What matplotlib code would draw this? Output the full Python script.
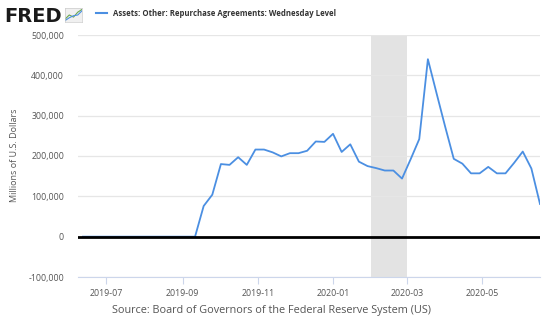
import numpy as np
import pandas as pd
import matplotlib
matplotlib.use("Agg")
import matplotlib.pyplot as plt
import matplotlib.dates as mdates
from matplotlib.lines import Line2D
from matplotlib.ticker import FuncFormatter

# --- data (millions of US dollars, weekly Wednesday level) ---
dates = pd.date_range("2019-06-12", "2020-06-17", freq="W-WED")
repo_values = [
    0, 0, 0, 0, 0, 0, 0, 0, 0, 0, 0, 0, 0, 0,
    76000, 104000, 180000, 178000, 197000, 178000, 216000, 216000,
    209000, 199000, 207000, 207000, 213000, 236000, 235000, 255000,
    210000, 229000, 186000, 175000, 170000, 164000, 164000, 144000,
    192000, 242000, 440000, 356000, 273000, 193000, 181000, 157000,
    157000, 173000, 157000, 157000, 183000, 211000, 169000, 81000,
]
recession = ("2020-02-01", "2020-03-01")
y_ticks = [-100000, 0, 100000, 200000, 300000, 400000, 500000]
x_ticks = ["2019-07-01", "2019-09-01", "2019-11-01", "2020-01-01", "2020-03-01", "2020-05-01"]
series_name = "Assets: Other: Repurchase Agreements: Wednesday Level"
source = "Source: Board of Governors of the Federal Reserve System (US)"

line_color = "#4b8fe2"
txt = "#555555"

plt.rcParams["font.family"] = ["Open Sans", "DejaVu Sans"]

W, H = 550, 327
fig = plt.figure(figsize=(W / 100, H / 100), dpi=100)
ax = fig.add_axes([78 / W, 1 - 277 / H, 462 / W, 242 / H])

ax.axvspan(pd.Timestamp(recession[0]), pd.Timestamp(recession[1]),
           color="#e3e3e3", lw=0, zorder=0)
ax.plot(dates, repo_values, color=line_color, lw=1.3, zorder=3)
ax.axhline(0, color="black", lw=2, zorder=4)

ax.set_xlim(pd.Timestamp("2019-06-08"), pd.Timestamp("2020-06-17"))
ax.set_ylim(-100000, 500000)
ax.set_yticks(y_ticks)
ax.yaxis.set_major_formatter(FuncFormatter(lambda v, p: f"{int(v):,}"))
ax.set_xticks([pd.Timestamp(d) for d in x_ticks])
ax.xaxis.set_major_formatter(mdates.DateFormatter("%Y-%m"))

ax.grid(axis="y", color="#e6e6e6", lw=0.9, zorder=1)
for s in ["left", "right", "top"]:
    ax.spines[s].set_visible(False)
ax.spines["bottom"].set_color("#ccd6eb")
ax.tick_params(axis="y", length=0, labelsize=6.3, labelcolor=txt, pad=10)
ax.tick_params(axis="x", length=5, color="#ccd6eb", labelsize=6.3,
               labelcolor=txt, pad=4)

fig.text(15 / W, 1 - 155 / H, "Millions of U.S. Dollars", rotation=90,
         ha="center", va="center", fontsize=6.5, color=txt)

# header: FRED logo + legend entry
fig.text(4 / W, 1 - 22 / H, "FRED", fontsize=14, fontweight="bold",
         family="DejaVu Sans", color="#1a1a1a",
         va="baseline", ha="left")
icon = fig.add_axes([65 / W, 1 - 22 / H, 17 / W, 14 / H])
icon.set_facecolor("#f0f0f0")
icon.plot([0, 1, 2, 3, 4], [0.2, 0.5, 0.35, 0.7, 0.9], color="#6aa84f", lw=0.8)
icon.plot([0, 1, 2, 3, 4], [0.1, 0.3, 0.45, 0.5, 0.8], color="#4b8fe2", lw=0.8)
icon.set_xlim(0, 4)
icon.set_ylim(0, 1)
icon.set_xticks([])
icon.set_yticks([])
for s in icon.spines.values():
    s.set_color("#cccccc")
    s.set_linewidth(0.5)
fig.add_artist(Line2D([96 / W, 107 / W], [1 - 13 / H, 1 - 13 / H],
                      color=line_color, lw=1.5))
fig.text(113 / W, 1 - 13 / H, series_name, fontsize=5.6, fontweight="bold",
         color="#333333", va="center", ha="left")

fig.text(272 / W, 1 - 311 / H, source, fontsize=7.8, color="#555555",
         ha="center", va="center")

fig.savefig("out.png", dpi=100)
